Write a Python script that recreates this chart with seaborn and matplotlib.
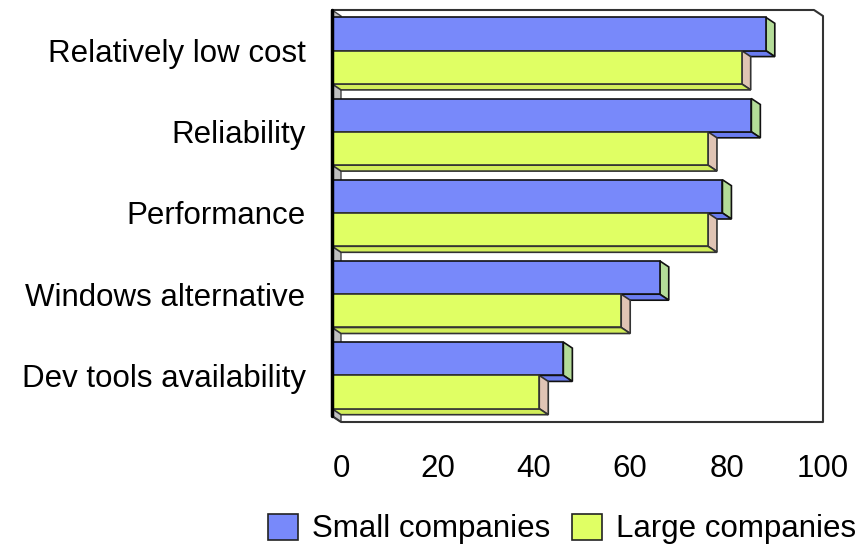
import matplotlib
matplotlib.use("Agg")
import matplotlib.pyplot as plt
import numpy as np
import pandas as pd
import seaborn as sns
from matplotlib.patches import Polygon, Patch

# ---- data ----
categories = ["Relatively low cost", "Reliability", "Performance",
              "Windows alternative", "Dev tools availability"]
small_companies = [90, 87, 81, 68, 48]
large_companies = [85, 78, 78, 60, 43]
series_names = ["Small companies", "Large companies"]
tick_values = [0, 20, 40, 60, 80, 100]

# ---- style ----
sns.set_theme(style="white")
plt.rcParams["font.family"] = ["Liberation Sans", "DejaVu Sans"]
plt.rcParams["text.color"] = "black"
FS = 22.5

front_colors = ["#7889FA", "#E0FF64"]
side_colors = ["#B4DC98", "#E0C4B4"]
bottom_colors = ["#6A7CF0", "#D2EE5A"]
edge_colors = ["#111111", "#333333"]

df = pd.DataFrame({
    "category": categories * 2,
    "value": small_companies + large_companies,
    "series": [series_names[0]] * len(categories) + [series_names[1]] * len(categories),
})

W, H, DPI = 867, 549, 100
fig = plt.figure(figsize=(W / DPI, H / DPI), dpi=DPI)
# axes spans front-left wall to back-right frame
ax = fig.add_axes([332 / W, 1 - 422 / H, 491 / W, 412 / H])

sns.barplot(data=df, x="value", y="category", hue="series", order=categories,
            hue_order=series_names, palette=front_colors, saturation=1, orient="h",
            width=0.82, edgecolor="black", linewidth=1.2, ax=ax, legend=False, zorder=3)

# 3D depth in pixels -> data units
ppu_x = 482 / 100.0
ppu_y = (416 - 10) / len(categories)
dx = 9 / ppu_x
dy = 6 / ppu_y
ymin, ymax = -0.5, len(categories) - 0.5
ax.set_xlim(0, 100 + dx)
ax.set_ylim(ymax + dy, ymin)

# left wall
ax.add_patch(Polygon([(0, ymin), (dx, ymin + dy), (dx, ymax + dy), (0, ymax)],
                     closed=True, fc="#C0C0C0", ec="#444444", lw=1, zorder=1))

# side and bottom faces of each bar
for j, cont in enumerate(ax.containers):
    for rect in cont:
        x0, w = rect.get_x(), rect.get_width()
        y0, h = rect.get_y(), rect.get_height()
        rect.set_edgecolor(edge_colors[j])
        side = Polygon([(x0 + w, y0), (x0 + w + dx, y0 + dy),
                        (x0 + w + dx, y0 + h + dy), (x0 + w, y0 + h)],
                       closed=True, fc=side_colors[j], ec=edge_colors[j], lw=1.2, zorder=2)
        bottom = Polygon([(x0, y0 + h), (x0 + w, y0 + h),
                          (x0 + w + dx, y0 + h + dy), (x0 + dx, y0 + h + dy)],
                         closed=True, fc=bottom_colors[j], ec=edge_colors[j], lw=1.2, zorder=2)
        ax.add_patch(side)
        ax.add_patch(bottom)

# frame
ax.plot([0, 100, 100 + dx, 100 + dx, dx, 0],
        [ymin, ymin, ymin + dy, ymax + dy, ymax + dy, ymax],
        color="#333333", lw=1.5, clip_on=False, zorder=4)
ax.plot([0, 0], [ymin, ymax], color="black", lw=2.5, clip_on=False, zorder=5)

for s in ax.spines.values():
    s.set_visible(False)
ax.grid(False)

ax.set_xticks([v + dx for v in tick_values])
ax.set_xticklabels([str(v) for v in tick_values])
ax.tick_params(axis="x", length=0, pad=23, labelsize=FS, colors="black")
ax.tick_params(axis="y", length=0, pad=19, labelsize=FS, colors="black")
ax.set_xlabel("")
ax.set_ylabel("")

handles = [Patch(fc=front_colors[i], ec="#222222", lw=1.2) for i in range(2)]
fig.legend(handles, series_names, loc="center", bbox_to_anchor=(562 / W, 1 - 529 / H),
           ncol=2, frameon=False, fontsize=FS, handlelength=0.94, handleheight=0.91,
           handletextpad=0.45, columnspacing=0.72, borderpad=0, borderaxespad=0,
           labelcolor="black")

fig.savefig("out.png", dpi=DPI)
